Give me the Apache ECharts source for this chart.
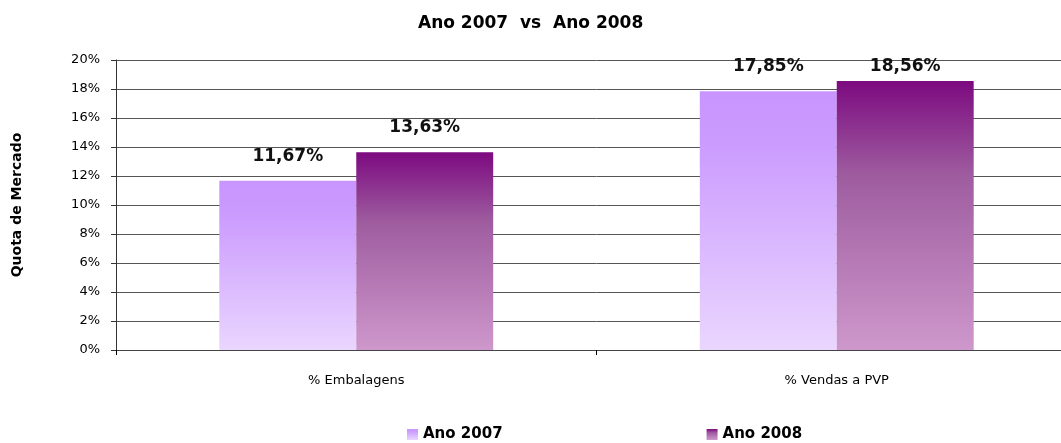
<!DOCTYPE html>
<html>
<head>
<meta charset="utf-8">
<title>Ano 2007 vs Ano 2008</title>
<script src="https://cdn.jsdelivr.net/npm/echarts@6/dist/echarts.min.js"></script>
<style>
  html, body { margin: 0; padding: 0; background: #fff; overflow: hidden; }
  /* a área do gráfico no original passa um pouco da margem direita */
  #chart { width: 1077px; height: 443px; }
</style>
</head>
<body>
<div id="chart"></div>
<script>
// dados
var categorias = ['% Embalagens', '% Vendas a PVP'];
var ano2007 = [11.67, 17.85];
var ano2008 = [13.63, 18.56];
var ticksY = [0, 2, 4, 6, 8, 10, 12, 14, 16, 18, 20];

var fonte = 'DejaVu Sans, Verdana, sans-serif';

function gradiente(stops) {
    return {
        type: 'linear', x: 0, y: 0, x2: 0, y2: 1,
        colorStops: stops
    };
}

var cor2007 = gradiente([
    { offset: 0, color: '#c895fe' },
    { offset: 0.2, color: '#cb9bfe' },
    { offset: 1, color: '#ead6fe' }
]);
var cor2008 = gradiente([
    { offset: 0, color: '#7c0a80' },
    { offset: 0.35, color: '#9e5c9f' },
    { offset: 1, color: '#ce98cc' }
]);

function rotulo(dist) {
    return {
        show: true,
        position: 'top',
        distance: dist,
        color: '#111',
        fontFamily: fonte,
        fontWeight: 'bold',
        fontSize: 17,
        formatter: function (p) { return p.value.toFixed(2).replace('.', ',') + '%'; }
    };
}

// o rótulo de 18,56% fica encostado ao topo da área (como no Excel)
function pontos(valores, distTopo) {
    return valores.map(function (v) {
        return v > 18.2 ? { value: v, label: rotulo(distTopo) } : v;
    });
}

var myChart = echarts.init(document.getElementById('chart'), null, { renderer: 'canvas' });

var option = {
    backgroundColor: '#fff',
    animation: false,
    title: {
        text: 'Ano 2007  vs  Ano 2008',
        left: 413,
        top: 10,
        textStyle: { fontFamily: fonte, fontWeight: 'bold', fontSize: 17, color: '#000' }
    },
    legend: {
        top: 422,
        left: 402,
        itemGap: 204,
        itemWidth: 11,
        itemHeight: 11,
        itemTextGap: 3,
        icon: 'rect',
        textStyle: { fontFamily: fonte, fontWeight: 'bold', fontSize: 15, color: '#000' },
        data: ['Ano 2007', 'Ano 2008']
    },
    grid: { left: 116, right: 0, top: 60, bottom: 93, containLabel: false },
    xAxis: {
        type: 'category',
        data: categorias,
        axisLine: { lineStyle: { color: '#444', width: 1 } },
        axisTick: { show: true, length: 5, lineStyle: { color: '#000' } },
        axisLabel: { fontFamily: fonte, fontSize: 13, color: '#000', margin: 24 }
    },
    yAxis: {
        type: 'value',
        min: 0,
        max: 20,
        interval: 2,
        name: 'Quota de Mercado',
        nameLocation: 'middle',
        nameGap: 92,
        nameRotate: 90,
        nameTextStyle: { fontFamily: fonte, fontWeight: 'bold', fontSize: 14, color: '#000' },
        axisLine: { show: true, lineStyle: { color: '#333' } },
        axisTick: { show: true, length: 5, lineStyle: { color: '#333' } },
        axisLabel: {
            fontFamily: fonte, fontSize: 13, color: '#000', margin: 16,
            formatter: function (v) { return ticksY.indexOf(v) >= 0 ? v + '%' : ''; }
        },
        splitLine: { lineStyle: { color: '#555', width: 1 } }
    },
    series: [
        {
            name: 'Ano 2007',
            type: 'bar',
            data: pontos(ano2007, 16),
            barGap: 0,
            barCategoryGap: '43%',
            itemStyle: { color: cor2007 },
            label: rotulo(16)
        },
        {
            name: 'Ano 2008',
            type: 'bar',
            data: pontos(ano2008, 6),
            barGap: 0,
            barCategoryGap: '43%',
            itemStyle: { color: cor2008 },
            label: rotulo(16)
        }
    ]
};

myChart.setOption(option);
window.addEventListener('resize', function () { myChart.resize(); });
</script>
</body>
</html>
